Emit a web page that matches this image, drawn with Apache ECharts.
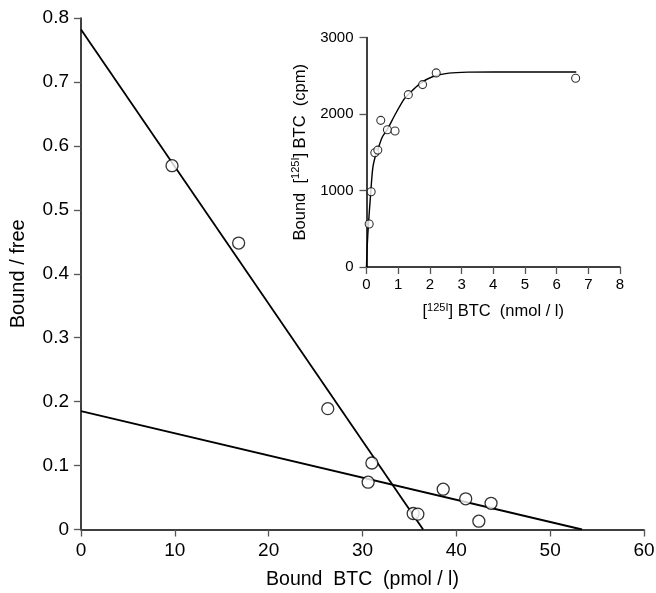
<!DOCTYPE html>
<html>
<head>
<meta charset="utf-8">
<script src="https://cdn.jsdelivr.net/npm/echarts@6/dist/echarts.min.js"></script>
<style>
html, body { margin: 0; padding: 0; background: #fff; }
#chart { width: 656px; height: 593px; }
</style>
</head>
<body>
<div id="chart"></div>
<script>
// Scatchard plot: bound BTC (pmol/l) vs bound/free
const boundBTC = [9.7, 16.8, 26.3, 31.0, 30.6, 35.4, 35.9, 38.6, 41.0, 43.7, 42.4];
const boundFree = [0.569, 0.448, 0.189, 0.104, 0.074, 0.025, 0.024, 0.063, 0.048, 0.041, 0.013];
// fitted lines, read as end points
const steepLine = [[0, 0.782], [36.46, 0]];
const shallowLine = [[0, 0.185], [53.4, 0]];

// inset: saturation curve
const insetConc = [0.084, 0.147, 0.263, 0.357, 0.45, 0.66, 0.90, 1.32, 1.77, 2.20, 6.60];
const insetCpm = [563, 983, 1493, 1528, 1917, 1795, 1777, 2253, 2384, 2537, 2467];
const curveConc = [0, 0.02, 0.06, 0.13, 0.2, 0.3, 0.36, 0.5, 0.66, 0.9, 1.18, 1.32, 1.7, 2.1, 2.6, 3.2, 4, 5, 6.62];
const curveCpm = [0, 250, 550, 950, 1300, 1480, 1540, 1700, 1800, 1990, 2190, 2255, 2400, 2490, 2535, 2548, 2550, 2550, 2550];

const font = "'Liberation Sans', Arial, sans-serif";
const chart = echarts.init(document.getElementById('chart'), null, {renderer: 'canvas'});

function axisStyle(size, tickLen, margin) {
    return {
        axisLine: {onZero: false, lineStyle: {color: '#000', width: 1.5}},
        axisTick: {length: tickLen, lineStyle: {color: '#555', width: 1.3}},
        splitLine: {show: false},
        axisLabel: {color: '#000', fontSize: size, fontFamily: font, margin: margin,
            formatter: v => String(v)}
    };
}

const supRich = {
    a: {color: '#000', fontSize: 16.5, fontFamily: font, lineHeight: 17, verticalAlign: 'bottom'},
    s: {color: '#000', fontSize: 11, fontFamily: font, lineHeight: 11, padding: [0, 0, 8, 0]}
};

const mainX = Object.assign({
    type: 'value', gridIndex: 0, min: 0, max: 60, interval: 10,
    name: 'Bound  BTC  (pmol / l)', nameLocation: 'middle', nameGap: 40,
    nameTextStyle: {color: '#000', fontSize: 19.5, fontFamily: font}
}, axisStyle(19, 7, 12));

const mainY = Object.assign({
    type: 'value', gridIndex: 0, min: 0, max: 0.8, interval: 0.1,
    name: 'Bound / free', nameLocation: 'middle', nameGap: 53, nameRotate: 90,
    nameTextStyle: {color: '#000', fontSize: 20, fontFamily: font}
}, axisStyle(19, 7, 12));

const insetX = Object.assign({
    type: 'value', gridIndex: 1, min: 0, max: 8, interval: 1,
    name: '{a|[}{s|125I}{a|] BTC  (nmol / l)}', nameLocation: 'middle', nameGap: 36,
    nameTextStyle: {rich: supRich}
}, axisStyle(15, 7, 10));

const insetY = Object.assign({
    type: 'value', gridIndex: 1, min: 0, max: 3000, interval: 1000,
    name: '{a|Bound  [}{s|125I}{a|] BTC  (cpm)}', nameLocation: 'middle', nameGap: 58, nameRotate: 90,
    nameTextStyle: {rich: supRich}
}, axisStyle(15, 7, 13));

const option = {
    animation: false,
    backgroundColor: '#fff',
    grid: [
        {left: 81, top: 18, width: 563, height: 511.5, outerBoundsMode: 'none', containLabel: false},
        {left: 366.5, top: 37.5, width: 253.5, height: 229.5, outerBoundsMode: 'none', containLabel: false}
    ],
    xAxis: [mainX, insetX],
    yAxis: [mainY, insetY],
    series: [
        {
            type: 'line', xAxisIndex: 0, yAxisIndex: 0, data: steepLine,
            symbol: 'none', lineStyle: {color: '#000', width: 1.8}, z: 2
        },
        {
            type: 'line', xAxisIndex: 0, yAxisIndex: 0, data: shallowLine,
            symbol: 'none', lineStyle: {color: '#000', width: 1.8}, z: 2
        },
        {
            type: 'scatter', xAxisIndex: 0, yAxisIndex: 0,
            data: boundBTC.map((x, i) => [x, boundFree[i]]),
            symbol: 'circle', symbolSize: 12,
            itemStyle: {color: '#fff', borderColor: '#000', borderWidth: 1.3}, z: 5
        },
        {
            type: 'line', xAxisIndex: 1, yAxisIndex: 1,
            data: curveConc.map((x, i) => [x, curveCpm[i]]),
            smooth: 0.3, symbol: 'none', lineStyle: {color: '#000', width: 1.4}, z: 2
        },
        {
            type: 'scatter', xAxisIndex: 1, yAxisIndex: 1,
            data: insetConc.map((x, i) => [x, insetCpm[i]]),
            symbol: 'circle', symbolSize: 8,
            itemStyle: {color: '#fff', borderColor: '#000', borderWidth: 1.1}, z: 5
        }
    ]
};
chart.setOption(option);
</script>
</body>
</html>
